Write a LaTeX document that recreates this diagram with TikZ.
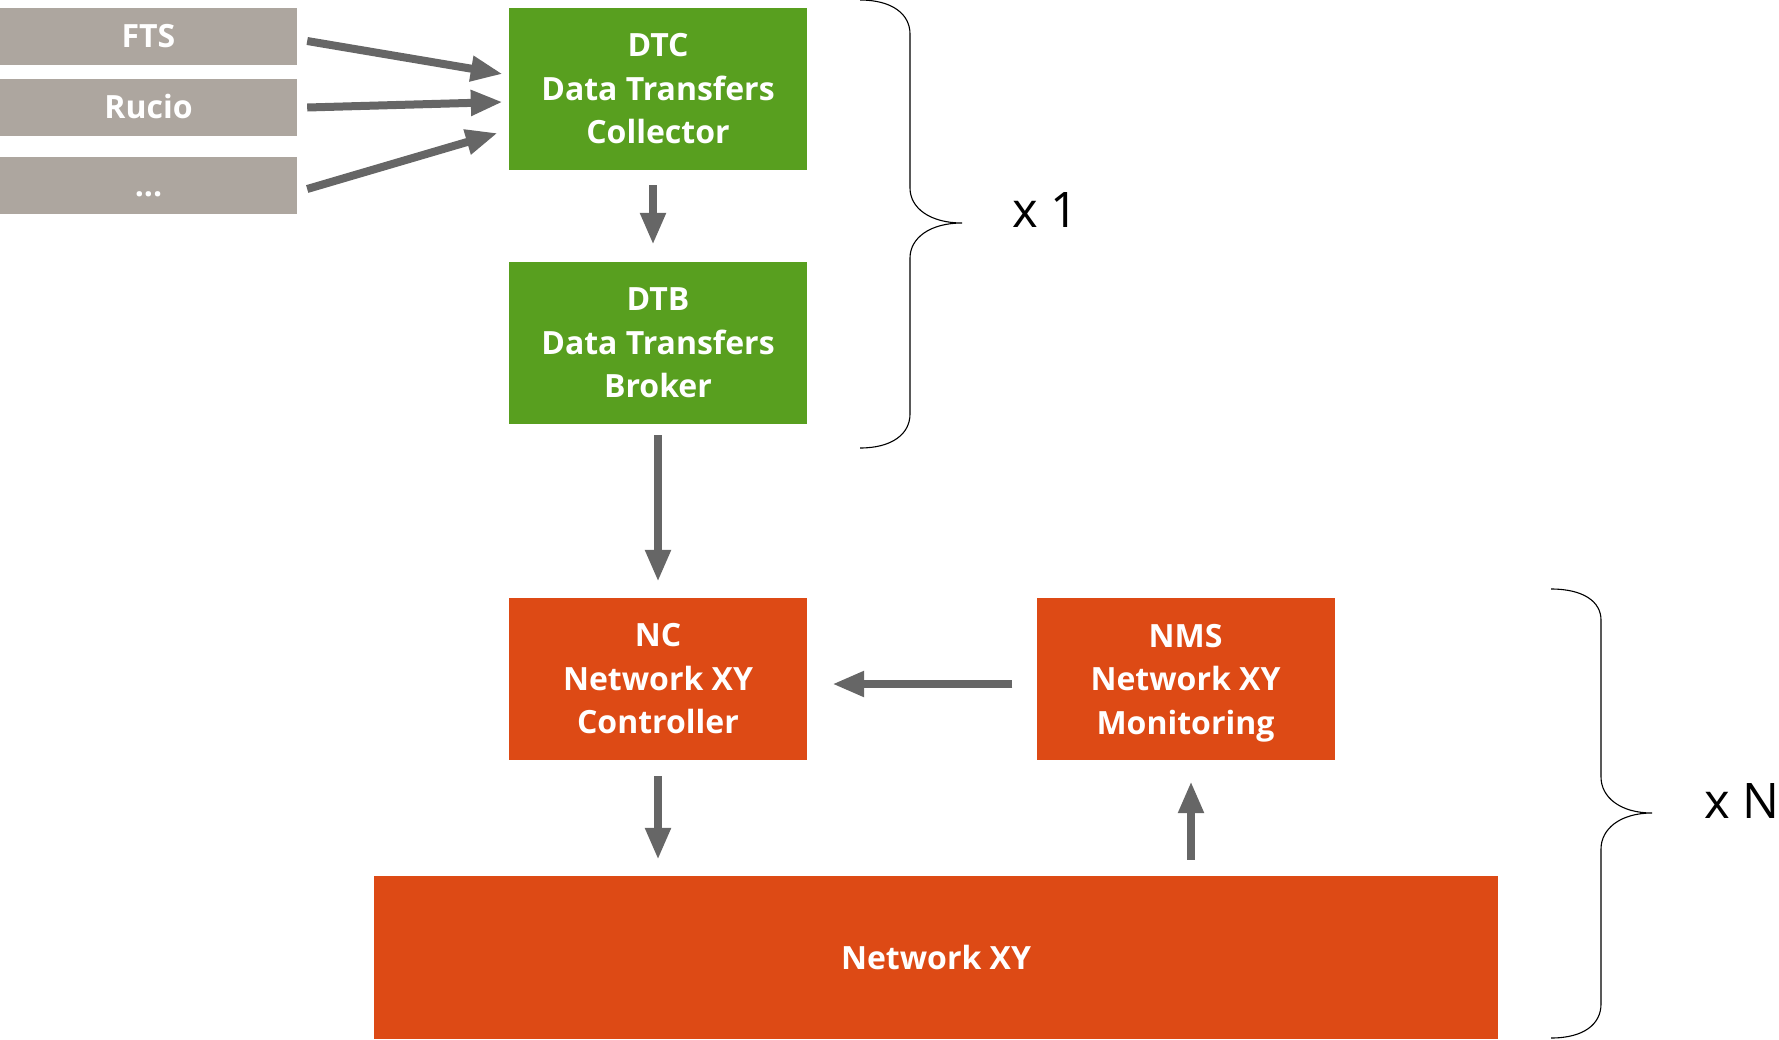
\documentclass[tikz,border=0pt]{standalone}
\usepackage{fontspec}
\setmainfont{Open Sans}
\usetikzlibrary{arrows.meta,calc}
\definecolor{boxgreen}{HTML}{589F1F}
\definecolor{boxorange}{HTML}{DD4A15}
\definecolor{boxgray}{HTML}{ADA69F}
\definecolor{arrgray}{HTML}{666666}
\tikzset{
  base/.style={rectangle, inner sep=0pt, text=white, align=center,
    font=\fontsize{32}{43.5}\selectfont\bfseries},
  srcbox/.style={base, fill=boxgray, minimum width=297pt, minimum height=57pt},
  greenbox/.style={base, fill=boxgreen, minimum width=298pt, minimum height=162pt},
  orangebox/.style={base, fill=boxorange, minimum width=298pt, minimum height=162pt},
  arr/.style={draw=arrgray, line width=8pt, -{Triangle[length=32pt,width=24pt]}},
  brace/.style={draw=black, line width=1.1pt},
  mult/.style={font=\fontsize{49}{52}\selectfont, inner sep=0pt}
}
\begin{document}
\begin{tikzpicture}[x=1pt,y=-1pt]
\useasboundingbox (0,0) rectangle (1779,1039);
% sources
\node[srcbox, text height=21pt, text depth=0pt] (fts) at (148.5,36.5) {FTS};
\node[srcbox, text height=21pt, text depth=0pt] (rucio) at (148.5,107.5) {Rucio};
\node[srcbox, text height=23pt, text depth=1pt] (dots) at (148.5,185) {...};
% green
\node[greenbox] (dtc) at (658,89) {DTC\\Data Transfers\\Collector};
\node[greenbox] (dtb) at (658,343) {DTB\\Data Transfers\\Broker};
% orange
\node[orangebox] (nc) at (658,679) {NC\\Network XY\\Controller};
\node[orangebox] (nms) at (1185.5,679) {NMS\\Network XY\\\smash{Monitoring}};
\node[base, fill=boxorange, minimum width=1124pt, minimum height=163pt] (net) at (936,957.5) {Network XY};
% arrows
\draw[arr] ([xshift=10pt,yshift=-4.5pt]fts.east) -- ([xshift=-6pt,yshift=15pt]dtc.west);
\draw[arr] ([xshift=10pt]rucio.east) -- ([xshift=-6pt,yshift=-13pt]dtc.west);
\draw[arr] ([xshift=10pt,yshift=-4pt]dots.east) -- ([xshift=-11pt,yshift=-44pt]dtc.west);
\draw[arr] ([xshift=-5pt,yshift=-15pt]dtc.south) -- ([xshift=-5pt,yshift=17pt]dtb.north);
\draw[arr, shorten <=11pt, shorten >=16pt] (dtb.south) -- (nc.north);
\draw[arr, shorten <=24pt, shorten >=25pt] ([yshift=-5pt]nms.west) -- ([yshift=-5pt]nc.east);
\draw[arr, shorten <=16pt, shorten >=16pt] (nc.south) -- (nc.south |- net.north);
\draw[arr, shorten <=16pt, shorten >=21pt] ([xshift=5.5pt]nms.south |- net.north) -- ([xshift=5.5pt]nms.south);
% braces
\draw[brace] (860,0) .. controls (892,0) and (910,14) .. (910,34)
  -- (910,188) .. controls (910,208) and (930,223) .. (962,223)
  .. controls (930,223) and (910,238) .. (910,258)
  -- (910,414) .. controls (910,434) and (892,448) .. (860,448);
\node[mult, anchor=west] (x1) at (1012,210) {x 1};
\draw[brace] (1551,589) .. controls (1584,589) and (1601,602) .. (1601,620)
  -- (1601,777) .. controls (1601,797) and (1620,813) .. (1652,813)
  .. controls (1620,813) and (1601,829) .. (1601,849)
  -- (1601,1004) .. controls (1601,1024) and (1584,1038) .. (1551,1038);
\node[mult, anchor=west] (xn) at (1704,801) {x N};
\end{tikzpicture}
\end{document}
